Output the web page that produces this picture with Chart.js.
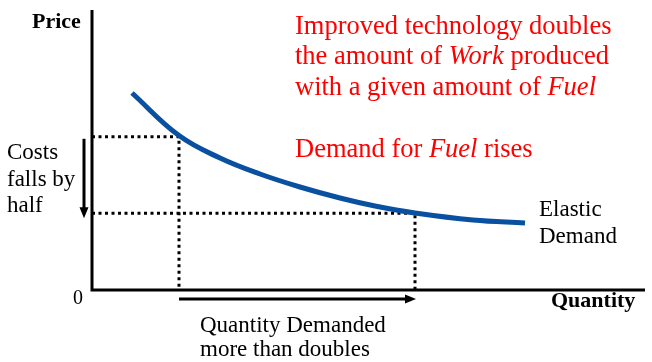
<!DOCTYPE html>
<html>
<head>
<meta charset="utf-8">
<script src="https://cdn.jsdelivr.net/npm/chart.js@4.4.1/dist/chart.umd.min.js"></script>
<style>
  body { margin: 0; background: #fff; }
  canvas { display: block; }
</style>
</head>
<body>
<canvas id="demandChart" width="652" height="362"></canvas>
<script>
// demand curve
const quantity = [8, 17.4, 25.6, 33.6, 41.6, 49.6, 56.6, 64.6, 76.2, 86.6];
const price = [9.85, 7.72, 6.6, 5.8, 5.15, 4.6, 4.2, 3.85, 3.5, 3.35];

// cost before / after, quantity before / after
const costLevels = [7.66, 3.84];
const qtyLevels = [17.4, 64.6];

const serif = '"Liberation Serif", "Times New Roman", serif';

function guide(q, p) {
  return [{ x: 0, y: p }, { x: q, y: p }, { x: q, y: 0 }];
}

function runs(ctx, parts, x, y, size, color) {
  ctx.fillStyle = color;
  parts.forEach(([t, it]) => {
    ctx.font = (it ? "italic " : "") + size + "px " + serif;
    ctx.fillText(t, x, y);
    x += ctx.measureText(t).width;
  });
}

const notes = {
  id: "notes",
  afterDraw(chart) {
    const { ctx, chartArea: a, scales: { x, y } } = chart;
    ctx.save();
    ctx.strokeStyle = "#000";
    ctx.fillStyle = "#000";
    ctx.lineWidth = 3;

    // axes
    ctx.beginPath();
    ctx.moveTo(a.left, a.top);
    ctx.lineTo(a.left, a.bottom);
    ctx.lineTo(a.right + 3, a.bottom);
    ctx.stroke();

    // down arrow: cost falls
    const ax = a.left - 8;
    const y0 = y.getPixelForValue(costLevels[0]) + 2;
    const y1 = y.getPixelForValue(costLevels[1]) + 5;
    ctx.beginPath();
    ctx.moveTo(ax, y0);
    ctx.lineTo(ax, y1 - 10);
    ctx.stroke();
    ctx.beginPath();
    ctx.moveTo(ax - 4.5, y1 - 11);
    ctx.lineTo(ax + 4.5, y1 - 11);
    ctx.lineTo(ax, y1);
    ctx.closePath();
    ctx.fill();

    // right arrow: quantity rises
    const ay = a.bottom + 9;
    const x0 = x.getPixelForValue(qtyLevels[0]);
    const x1 = x.getPixelForValue(qtyLevels[1]) + 1;
    ctx.beginPath();
    ctx.moveTo(x0, ay);
    ctx.lineTo(x1 - 10, ay);
    ctx.stroke();
    ctx.beginPath();
    ctx.moveTo(x1 - 11, ay - 4.5);
    ctx.lineTo(x1 - 11, ay + 4.5);
    ctx.lineTo(x1, ay);
    ctx.closePath();
    ctx.fill();

    // labels
    ctx.textBaseline = "alphabetic";
    ctx.font = "bold 22px " + serif;
    ctx.fillText("Price", 32, 28);
    ctx.fillText("Quantity", 551, 307);
    ctx.font = "20px " + serif;
    ctx.fillText("0", 73, 304);

    ctx.font = "23px " + serif;
    ctx.fillText("Costs", 7, 159);
    ctx.fillText("falls by", 7, 186);
    ctx.fillText("half", 7, 212);
    ctx.fillText("Elastic", 539, 216);
    ctx.fillText("Demand", 539, 243);
    ctx.fillText("Quantity Demanded", 200, 332);
    ctx.fillText("more than doubles", 200, 356);

    const red = "#ff0000";
    runs(ctx, [["Improved technology doubles", false]], 295, 34, 26.5, red);
    runs(ctx, [["the amount of ", false], ["Work", true], [" produced", false]], 295, 64, 26.5, red);
    runs(ctx, [["with a given amount of ", false], ["Fuel", true]], 295, 95, 26.5, red);
    runs(ctx, [["Demand for ", false], ["Fuel", true], [" rises", false]], 295, 157, 26.5, red);
    ctx.restore();
  }
};

const dotted = {
  borderColor: "#000",
  borderWidth: 3,
  borderDash: [3, 3.5],
  borderCapStyle: "butt",
  pointRadius: 0,
  tension: 0,
  fill: false,
  clip: false
};

new Chart(document.getElementById("demandChart"), {
  type: "line",
  data: {
    datasets: [
      {
        label: "Elastic Demand",
        data: quantity.map((q, i) => ({ x: q, y: price[i] })),
        borderColor: "#0a50a0",
        borderWidth: 5,
        borderCapStyle: "butt",
        pointRadius: 0,
        tension: 0.4,
        fill: false
      },
      Object.assign({ label: "before", data: guide(qtyLevels[0], costLevels[0]) }, dotted),
      Object.assign({ label: "after", data: guide(qtyLevels[1], costLevels[1]) }, dotted)
    ]
  },
  options: {
    responsive: false,
    animation: false,
    layout: { padding: { left: 92, right: 10, top: 10, bottom: 72 } },
    plugins: {
      legend: { display: false },
      tooltip: { enabled: false }
    },
    scales: {
      x: { type: "linear", min: 0, max: 110, display: false },
      y: { type: "linear", min: 0, max: 14, display: false }
    }
  },
  plugins: [notes]
});
</script>
</body>
</html>
